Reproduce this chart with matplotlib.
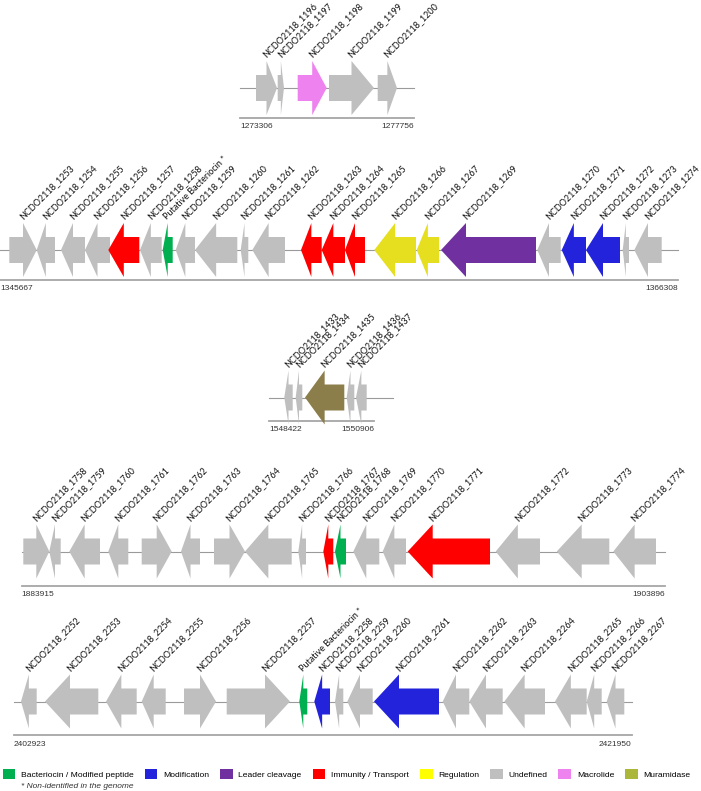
#!/usr/bin/env python
"""Gene cluster maps for NCDO2118 bacteriocin loci."""
import matplotlib

matplotlib.use("Agg")
import matplotlib.pyplot as plt
from matplotlib.patches import Polygon, Patch

# ------
# Data: gene extents in drawing units along each cluster, strand, category
C1_NAMES = ["NCDO2118_1196", "NCDO2118_1197", "NCDO2118_1198", "NCDO2118_1199",
            "NCDO2118_1200"]
C1_START = [256, 277.7, 297.7, 329, 377.7]
C1_END = [277, 284, 326.7, 374, 397]
C1_STRAND = [1, 1, 1, 1, 1]
C1_CAT = ["und", "und", "mac", "und", "und"]
C1_RANGE = ("1273306", "1277756")

C2_NAMES = ["NCDO2118_1253", "NCDO2118_1254", "NCDO2118_1255", "NCDO2118_1256",
            "NCDO2118_1257", "NCDO2118_1258", "Putative Bacteriocin *",
            "NCDO2118_1259", "NCDO2118_1260", "NCDO2118_1261", "NCDO2118_1262",
            "NCDO2118_1263", "NCDO2118_1264", "NCDO2118_1265", "NCDO2118_1266",
            "NCDO2118_1267", "NCDO2118_1269", "NCDO2118_1270", "NCDO2118_1271",
            "NCDO2118_1272", "NCDO2118_1273", "NCDO2118_1274"]
C2_START = [9.3, 36.7, 61, 85, 108.3, 140, 162.7, 175.7, 195, 240.7, 252.3,
            301, 321.7, 345, 374.3, 416.7, 441, 537.3, 561.7, 586, 622.7, 634.3]
C2_END = [36.7, 55, 85, 110, 139.3, 161.7, 172.7, 195, 237.3, 248.3, 285,
          321.7, 345, 365, 416, 439, 536, 560.7, 586, 620, 629, 661.7]
C2_STRAND = [1] + [-1] * 21
C2_CAT = ["und", "und", "und", "und", "imm", "und", "bac", "und", "und", "und",
          "und", "imm", "imm", "imm", "reg", "reg", "lead", "und", "mod", "mod",
          "und", "und"]
C2_RANGE = ("1345667", "1366308")

C3_NAMES = ["NCDO2118_1433", "NCDO2118_1434", "NCDO2118_1435", "NCDO2118_1436",
            "NCDO2118_1437"]
C3_START = [284.3, 295.7, 305, 346.7, 356]
C3_END = [292.7, 302.3, 344.3, 354.3, 366.7]
C3_STRAND = [-1, -1, -1, -1, -1]
C3_CAT = ["und", "und", "mur", "und", "und"]
C3_RANGE = ("1548422", "1550906")

C4_NAMES = ["NCDO2118_1758", "NCDO2118_1759", "NCDO2118_1760", "NCDO2118_1761",
            "NCDO2118_1762", "NCDO2118_1763", "NCDO2118_1764", "NCDO2118_1765",
            "NCDO2118_1766", "NCDO2118_1767", "NCDO2118_1768", "NCDO2118_1769",
            "NCDO2118_1770", "NCDO2118_1771", "NCDO2118_1772", "NCDO2118_1773",
            "NCDO2118_1774"]
C4_START = [23.3, 49.3, 69.3, 108.3, 141.7, 181, 214, 245, 298.3, 323.3, 335,
            353.3, 382.7, 407.7, 495.7, 556.7, 613.3]
C4_END = [49.3, 60.7, 100, 128.3, 171.7, 200, 245, 291.7, 306, 333.3, 346,
          379.3, 406, 490, 540, 609.3, 656]
C4_STRAND = [1, -1, -1, -1, 1, -1, 1, -1, -1, -1, -1, -1, -1, -1, -1, -1, -1]
C4_CAT = ["und"] * 9 + ["imm", "bac", "und", "und", "imm", "und", "und", "und"]
C4_RANGE = ("1883915", "1903896")

C5_NAMES = ["NCDO2118_2252", "NCDO2118_2253", "NCDO2118_2254", "NCDO2118_2255",
            "NCDO2118_2256", "NCDO2118_2257", "Putative Bacteriocin *",
            "NCDO2118_2258", "NCDO2118_2259", "NCDO2118_2260", "NCDO2118_2261",
            "NCDO2118_2262", "NCDO2118_2263", "NCDO2118_2264", "NCDO2118_2265",
            "NCDO2118_2266", "NCDO2118_2267"]
C5_START = [21, 45, 106, 141.7, 184, 226.7, 299.3, 314.3, 335, 347.3, 374,
            442.7, 469.3, 504.3, 555, 586.7, 606.7]
C5_END = [36.7, 98.3, 136.7, 165.7, 216, 290, 307.3, 330, 343.3, 372.7, 439,
          469.3, 502.7, 545, 586.7, 601.7, 624.3]
C5_STRAND = [-1, -1, -1, -1, 1, 1] + [-1] * 11
C5_CAT = ["und"] * 6 + ["bac", "mod"] + ["und", "und", "mod"] + ["und"] * 6
C5_RANGE = ("2402923", "2421950")

LEGEND_KEYS = ["bac", "mod", "lead", "imm", "reg", "und", "mac", "mur"]
LEGEND_LABELS = ["Bacteriocin / Modified peptide", "Modification",
                 "Leader cleavage", "Immunity / Transport", "Regulation",
                 "Undefined", "Macrolide", "Muramidase"]

# Colours of the gene arrows and of the legend boxes
GENE_COLORS = {
    "bac": "#00b050",
    "mod": "#2323dc",
    "lead": "#7030a0",
    "imm": "#ff0000",
    "reg": "#e5df20",
    "und": "#bfbfbf",
    "mac": "#ee82ee",
    "mur": "#8c7e4b",
}
LEGEND_COLORS = dict(GENE_COLORS, reg="#ffff00", mur="#abb73a")

LABEL_FONT = ["Lato", "DejaVu Sans"]
NUM_FONT = ["Liberation Sans", "DejaVu Sans"]


def draw_gene(ax, start, end, strand, y0, color, body=13, head_h=27):
    """Draw one gene as an arrow polygon, return x of the arrow head base."""
    head = min(0.5 * (end - start), 25)
    if strand > 0:
        hb = end - head
        pts = [(start, y0 - body), (hb, y0 - body), (hb, y0 - head_h),
               (end, y0), (hb, y0 + head_h), (hb, y0 + body), (start, y0 + body)]
    else:
        hb = start + head
        pts = [(end, y0 - body), (hb, y0 - body), (hb, y0 - head_h),
               (start, y0), (hb, y0 + head_h), (hb, y0 + body), (end, y0 + body)]
    ax.add_patch(Polygon(pts, closed=True, facecolor=color, edgecolor="none",
                         zorder=3))
    return hb


def draw_cluster(ax, names, starts, ends, strands, cats, coords,
                 y0, y_scale, x0, x1, x1_line=None):
    """Backbone, genes with labels and the genomic coordinate bar."""
    ax.plot([x0, x1], [y0, y0], color="#9a9a9a", lw=0.8, zorder=1)
    for name, a, b, s, c in zip(names, starts, ends, strands, cats):
        hb = draw_gene(ax, a, b, s, y0, GENE_COLORS[c])
        ax.text(hb + 1, y0 - 28.5, name, rotation=45, rotation_mode="anchor",
                ha="left", va="bottom", fontsize=6.5, family=LABEL_FONT,
                color="#111111")
    x1_line = x1 if x1_line is None else x1_line
    ax.plot([x0, x1_line], [y_scale, y_scale], color="#a6a6a6", lw=1.3,
            zorder=1)
    ax.text(x0, y_scale + 9, coords[0], ha="left", va="center", fontsize=6,
            family=NUM_FONT, color="#333333")
    ax.text(x1_line, y_scale + 9, coords[1], ha="right", va="center",
            fontsize=6, family=NUM_FONT, color="#333333")


# ------
# Build figure
fig = plt.figure(figsize=(7.01, 7.91), dpi=100)
ax = fig.add_axes([0, 0, 1, 1])
ax.set_xlim(0, 701)
ax.set_ylim(791, 0)
ax.axis("off")

draw_cluster(ax, C1_NAMES, C1_START, C1_END, C1_STRAND, C1_CAT, C1_RANGE,
             y0=88, y_scale=118, x0=240, x1=414)
draw_cluster(ax, C2_NAMES, C2_START, C2_END, C2_STRAND, C2_CAT, C2_RANGE,
             y0=250, y_scale=280, x0=0, x1=678)
draw_cluster(ax, C3_NAMES, C3_START, C3_END, C3_STRAND, C3_CAT, C3_RANGE,
             y0=397.5, y_scale=420.5, x0=269, x1=393, x1_line=374)
draw_cluster(ax, C4_NAMES, C4_START, C4_END, C4_STRAND, C4_CAT, C4_RANGE,
             y0=551.5, y_scale=585.5, x0=21.7, x1=665)
draw_cluster(ax, C5_NAMES, C5_START, C5_END, C5_STRAND, C5_CAT, C5_RANGE,
             y0=701.5, y_scale=735, x0=14, x1=631.7)

# Legend
handles = [Patch(facecolor=LEGEND_COLORS[k], edgecolor="none")
           for k in LEGEND_KEYS]
fig.legend(handles, LEGEND_LABELS, ncol=8, loc="center left",
           bbox_to_anchor=(2.7 / 701, 1 - 774 / 791), frameon=False,
           prop={"family": NUM_FONT, "size": 6.1}, handlelength=1.5,
           handleheight=1.45, handletextpad=0.66, columnspacing=1.3,
           borderpad=0, borderaxespad=0)
ax.text(21, 786, "* Non-identified in the genome", ha="left", va="center",
        fontsize=6, style="italic", family=NUM_FONT, color="#333333")

fig.savefig("out.png", dpi=100)
plt.close()
